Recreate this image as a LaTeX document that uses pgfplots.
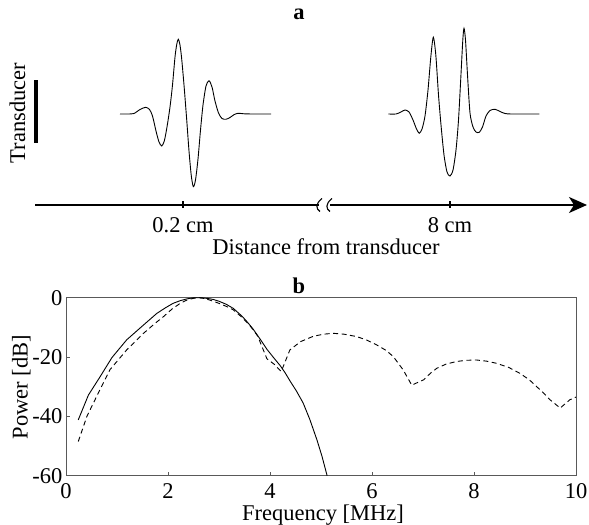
\documentclass[border=0pt]{standalone}
\usepackage{fontspec}
\setmainfont{Liberation Serif}
\usepackage{pgfplots}
\pgfplotsset{compat=1.18}
\usetikzlibrary{arrows.meta}
\begin{document}
\fontsize{22.5bp}{26bp}\selectfont
\begin{tikzpicture}[font=\fontsize{22.5bp}{26bp}\selectfont]
% ---------------- panel a ----------------
\begin{axis}[at={(0,0)}, anchor=south west, width=589bp, height=525bp,
  scale only axis, xmin=0, xmax=589, ymin=0, ymax=525, hide axis, clip=false]
\addplot[black, line width=0.9bp, smooth, tension=0.45] coordinates {
(120,411) (128,411) (134,411.5) (140,415.5) (145.7,417.7) (149.5,415.5)
(152.5,409) (156,394) (159,383) (161.7,379) (164.3,384) (167,398) (170,418)
(172.5,440) (175,468) (176.8,481) (178.3,485.7) (179.8,481) (181.5,468)
(184,440) (186.5,408) (189,374) (191.2,350) (193.3,338.3) (195.5,345)
(198,366) (200.5,395) (203,420) (206,439) (209,444.3) (212,438) (215,424)
(218.5,412) (222,406.5) (226,405.7) (230,407.5) (234,410.3) (238,411.7)
(244,411.2) (252,411) (271,411)};
\addplot[black, line width=0.9bp, smooth, tension=0.45] coordinates {
(388.3,411) (396,411) (401,413) (405,415) (409,413) (413,405) (416.5,396)
(419.3,391.7) (422,396) (425,409) (428,435) (430.8,468) (433.3,487.7)
(435.8,470) (438.5,430) (441,400) (444,370) (447,353) (450,349) (453,355)
(456,375) (458.5,405) (461,451) (462.8,485) (464,496.7) (465.5,485)
(467.5,450) (470,412) (473,398) (476,393) (479.3,392.7) (482.5,398)
(486,409) (490,414.5) (495,415.7) (500,413.5) (505,411.5) (512,411)
(539.3,411)};
% transducer bar
\draw[line width=3.5bp] (36,382) -- (36,445);
% distance axis with break
\draw[line width=1.6bp] (35,320) -- (318.5,320);
\draw[line width=1.6bp, -{Stealth[length=18bp,width=16bp,inset=5bp]}] (330,320) -- (587,320);
\draw[line width=1.1bp] (322,326.5) .. controls (315,321) and (316,316) .. (320,313.5);
\draw[line width=1.1bp] (332,326.5) .. controls (325,321) and (326,316) .. (330,313.5);
\draw[line width=1.1bp] (183,317) -- (183,323.5);
\draw[line width=1.1bp] (450,317) -- (450,323.5);
\node[anchor=base] at (183,292.5) {0.2 cm};
\node[anchor=base] at (450,292.5) {8 cm};
\node[anchor=base] at (326,270) {Distance from transducer};
\node[rotate=90, anchor=base] at (25,412) {Transducer};
\node[anchor=base] at (299,505) {\textbf{a}};
\end{axis}
% ---------------- panel b ----------------
\begin{axis}[at={(66bp,49.3bp)}, anchor=south west, width=510bp, height=178bp,
  scale only axis, xmin=0, xmax=10, ymin=-60, ymax=0,
  xtick={0,2,4,6,8,10}, ytick={-60,-40,-20,0},
  tick align=inside, xtick pos=bottom, ytick pos=left,
  major tick length=4bp,
  axis line style={black!65, line width=0.8bp},
  every tick/.style={black!65, line width=0.8bp},
  /pgf/number format/assume math mode=true,
  xticklabel style={anchor=base, inner sep=0pt, yshift=-22.6bp},
  yticklabel style={inner sep=0pt, xshift=-3.5bp}]
\addplot[black, line width=0.9bp] coordinates {
(0.24,-41.2) (0.44,-32.8) (0.67,-26.6) (0.9,-20.2) (1.19,-14.2) (1.52,-9.2)
(1.78,-5.3) (1.95,-3.4) (2.1,-1.9) (2.24,-1.0) (2.37,-0.4) (2.47,-0.1)
(2.56,0) (2.66,-0.05) (2.78,-0.25) (2.89,-0.6) (3.0,-1.2) (3.14,-2.2)
(3.28,-3.6) (3.45,-6.2) (3.56,-8.3) (3.67,-10.6) (3.8,-13.8) (3.94,-17.4)
(4.07,-20.2) (4.2,-22.9) (4.3,-25.4) (4.39,-28.0) (4.52,-31.5) (4.65,-35.5)
(4.78,-41) (4.92,-47.9) (5.02,-53.5) (5.12,-60)};
\addplot[black, line width=0.9bp, dash pattern=on 5bp off 3.5bp] coordinates {
(0.24,-48.5) (0.41,-40) (0.6,-33.3) (0.86,-24.3) (1.19,-17.6) (1.52,-12)
(1.75,-8.6) (1.91,-6.4) (2.08,-3.8) (2.24,-1.9) (2.37,-0.8) (2.5,-0.2)
(2.62,0) (2.72,-0.3) (2.82,-0.8) (3.0,-1.9) (3.14,-2.9) (3.28,-4.1)
(3.45,-6.6) (3.6,-9.3) (3.7,-11.5) (3.76,-13) (3.94,-20.6) (4.08,-22.4)
(4.22,-24.9) (4.39,-17.6) (4.6,-14.8) (4.85,-13) (5.05,-12.3) (5.24,-12)
(5.45,-12.3) (5.7,-13.1) (5.9,-14.3) (6.09,-15.9) (6.28,-17.8) (6.42,-19.9)
(6.61,-24.3) (6.78,-29.5) (6.84,-29) (7.01,-27.7) (7.15,-25.4) (7.27,-23.8)
(7.45,-22.4) (7.66,-21.5) (7.85,-21.1) (8.05,-21) (8.25,-21.4) (8.44,-22.1)
(8.68,-23.5) (8.9,-25.5) (9.08,-27.6) (9.23,-30) (9.38,-32.4) (9.49,-34.4)
(9.69,-37.2) (9.88,-34.4) (10,-33.5)};
\end{axis}
\node[rotate=90, anchor=base] at (27.5bp,138bp) {Power [dB]};
\node[anchor=base, inner sep=0pt] at (323bp,4.6bp) {Frequency [MHz]};
\node[anchor=base] at (299bp,231bp) {\textbf{b}};
\pgfresetboundingbox
\useasboundingbox (0,0) rectangle (589bp,525bp);
\end{tikzpicture}
\end{document}
